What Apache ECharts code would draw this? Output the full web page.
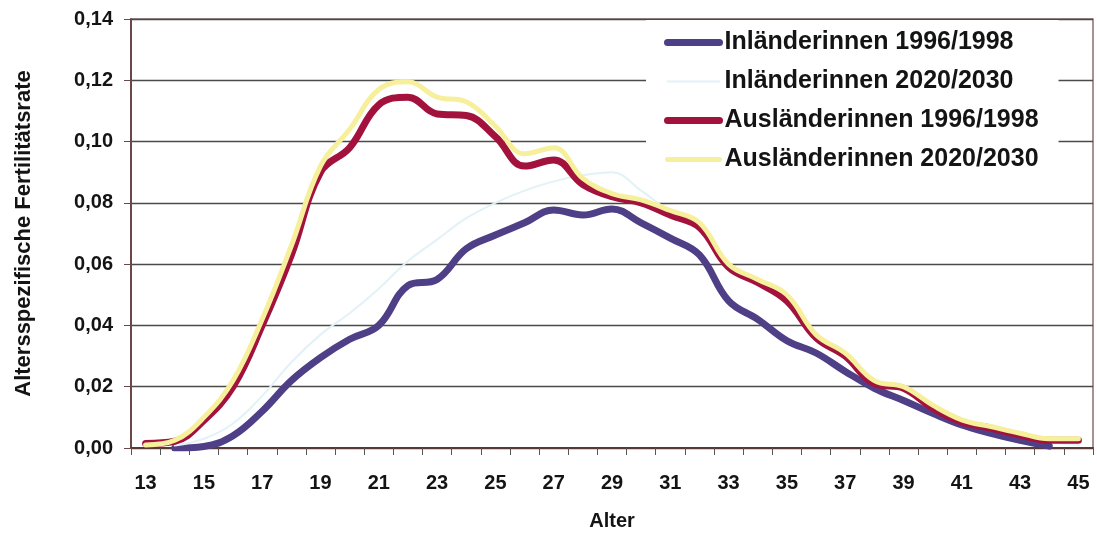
<!DOCTYPE html>
<html>
<head>
<meta charset="utf-8">
<script src="https://cdn.jsdelivr.net/npm/echarts@6/dist/echarts.min.js"></script>
<style>
  html, body { margin: 0; padding: 0; background: #fff; }
  #chart { width: 1097px; height: 536px; }
</style>
</head>
<body>
<div id="chart"></div>
<script>
// Alter (x-Achse)
var ages = ['13','14','15','16','17','18','19','20','21','22','23','24','25','26','27','28','29',
            '30','31','32','33','34','35','36','37','38','39','40','41','42','43','44','45'];

// Altersspezifische Fertilitätsrate
var inl9698 = [null, 0, 0.0005, 0.004, 0.012, 0.022, 0.0295, 0.0355, 0.040, 0.053, 0.055, 0.065,
               0.0695, 0.0735, 0.0777, 0.076, 0.078, 0.0735, 0.0685, 0.063, 0.048, 0.042, 0.035,
               0.031, 0.025, 0.0195, 0.0155, 0.0113, 0.0075, 0.0048, 0.0025, 0.0006, null];
var inl2030 = [null, 0.0008, 0.003, 0.008, 0.017, 0.028, 0.037, 0.044, 0.052, 0.061, 0.068, 0.075,
               0.080, 0.084, 0.087, 0.089, 0.090, 0.084, 0.077, 0.071, 0.059, 0.054, 0.048,
               0.036, 0.030, 0.021, 0.019, 0.013, 0.008, 0.006, 0.004, 0.002, 0.001];
var aus9698 = [0.0015, 0.0022, 0.009, 0.020, 0.040, 0.063, 0.090, 0.098, 0.112, 0.1145, 0.109, 0.1085,
               0.1016, 0.092, 0.094, 0.086, 0.082, 0.080, 0.076, 0.072, 0.059, 0.054, 0.048,
               0.036, 0.030, 0.021, 0.0195, 0.013, 0.0085, 0.0065, 0.0042, 0.0025, 0.0025];
var aus2030 = [0.001, 0.0025, 0.010, 0.022, 0.042, 0.066, 0.092, 0.104, 0.117, 0.1195, 0.1145, 0.113,
               0.105, 0.096, 0.098, 0.088, 0.083, 0.081, 0.0775, 0.0735, 0.060, 0.055, 0.050,
               0.037, 0.031, 0.022, 0.020, 0.014, 0.0092, 0.007, 0.0048, 0.003, 0.003];

var names = ['Inländerinnen 1996/1998', 'Inländerinnen 2020/2030',
             'Ausländerinnen 1996/1998', 'Ausländerinnen 2020/2030'];
var colors = ['#4f3f87', '#e2f2f7', '#a3123d', '#f6f09c'];
var widths = [7, 2, 7, 5];
var values = [inl9698, inl2030, aus9698, aus2030];

var font = "'Liberation Sans', Arial, sans-serif";

var chartDom = document.getElementById('chart');
var myChart = echarts.init(chartDom);

var series = [];
values.forEach(function (data, i) {
  series.push({
    name: names[i],
    type: 'line',
    data: data,
    smooth: 0.4,
    symbol: 'none',
    showSymbol: false,
    itemStyle: { color: colors[i] },
    lineStyle: { color: colors[i], width: widths[i], cap: 'round', join: 'round' }
  });
});

var option = {
  animation: false,
  backgroundColor: '#fff',
  grid: {
    left: 131, right: 4, top: 19, bottom: 83,
    show: true,
    backgroundColor: '#fff',
    borderColor: '#8a6d6d',
    borderWidth: 1.5
  },
  legend: {
    orient: 'vertical',
    left: 646,
    top: 20,
    padding: [10, 20, 15, 18],
    itemGap: 14,
    itemWidth: 52,
    itemHeight: 8,
    backgroundColor: '#fff',
    lineStyle: { width: 'inherit', cap: 'round' },
    itemStyle: { opacity: 0 },
    textStyle: { fontFamily: font, fontSize: 25, fontWeight: 'bold', color: '#141414' },
    data: names
  },
  xAxis: {
    type: 'category',
    data: ages,
    boundaryGap: true,
    name: 'Alter',
    nameLocation: 'middle',
    nameGap: 63,
    nameTextStyle: { fontFamily: font, fontSize: 20, fontWeight: 'bold', color: '#141414' },
    axisLine: { lineStyle: { color: '#5a3838', width: 2 } },
    axisTick: { show: true, interval: 0, length: 7, lineStyle: { color: '#555' } },
    axisLabel: { interval: 1, margin: 25, fontFamily: font, fontSize: 20, fontWeight: 'bold', color: '#141414' },
    splitLine: { show: false }
  },
  yAxis: {
    type: 'value',
    min: 0,
    max: 0.14,
    interval: 0.02,
    name: 'Altersspezifische Fertilitätsrate',
    nameLocation: 'middle',
    nameGap: 96,
    nameTextStyle: { fontFamily: font, fontSize: 22, fontWeight: 'bold', color: '#141414' },
    axisLine: { show: true, lineStyle: { color: '#6b4848', width: 2 } },
    axisTick: { show: true, length: 7, lineStyle: { color: '#6b4848' } },
    axisLabel: {
      margin: 18,
      fontFamily: font, fontSize: 20, fontWeight: 'bold', color: '#141414',
      formatter: function (v) { return v.toFixed(2).replace('.', ','); }
    },
    splitLine: { show: true, lineStyle: { color: '#4a4a4a', width: 1.3 } }
  },
  series: series
};

option && myChart.setOption(option);
</script>
</body>
</html>
